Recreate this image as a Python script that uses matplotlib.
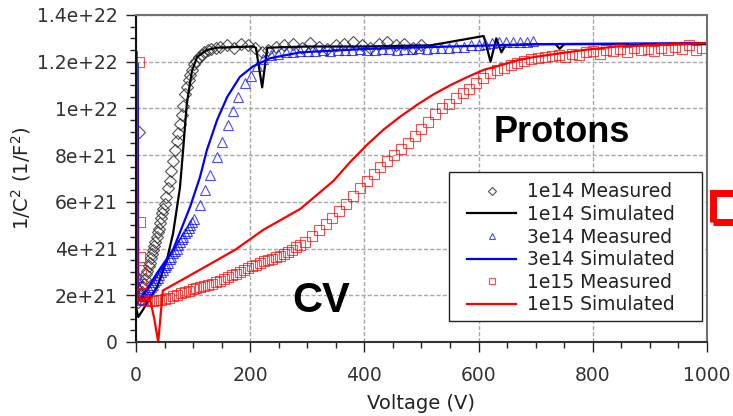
import numpy as np
import matplotlib
matplotlib.use('Agg')
import matplotlib.pyplot as plt
from matplotlib.patches import Rectangle

# Datos (valores de 1/C^2 en unidades de 1e21 F^-2)
v_1e14_med = [3, 5, 6, 8, 10, 12, 14, 16, 18, 20, 22, 24, 26, 28, 30, 32, 34, 36, 38, 40,
              42, 44, 46, 48, 50, 53, 56, 59, 62, 65, 68, 71, 74, 77, 80, 83, 86, 89, 92, 95,
              98, 102, 106, 110, 115, 120, 126, 132, 140, 148, 160, 172, 184, 196, 208, 220,
              232, 246, 260, 275, 290, 305, 320, 335, 350, 365, 380, 395, 410, 425, 440, 455,
              470, 485, 500]
c_1e14_med = [1.7, 9.0, 1.9, 2.0, 2.15, 2.35, 2.5, 2.7, 2.9, 3.05, 3.25, 3.4, 3.6, 3.75, 3.95,
              4.1, 4.3, 4.5, 4.7, 4.85, 5.1, 5.3, 5.5, 5.7, 5.9, 6.2, 6.6, 6.9, 7.3, 7.75, 8.2,
              8.6, 8.95, 9.35, 9.7, 10.1, 10.6, 10.9, 11.2, 11.45, 11.65, 11.9, 12.05, 12.2,
              12.3, 12.4, 12.5, 12.55, 12.6, 12.65, 12.7, 12.6, 12.75, 12.7, 12.6, 12.4, 12.5,
              12.65, 12.7, 12.75, 12.6, 12.8, 12.65, 12.55, 12.7, 12.75, 12.85, 12.7, 12.6,
              12.75, 12.85, 12.7, 12.75, 12.6, 12.7]

v_1e14_sim = [0, 4, 12, 25, 37, 54, 65, 77, 83, 89, 98, 107, 124, 142, 205, 210, 221, 230, 300,
              400, 516, 609, 621, 631, 640, 647, 700, 735, 742, 750, 800, 900, 1000]
c_1e14_sim = [1.5, 1.07, 1.37, 1.9, 2.35, 3.5, 4.65, 6.6, 8.35, 10.2, 11.6, 12.2, 12.5, 12.6,
              12.65, 12.6, 10.9, 12.6, 12.65, 12.65, 12.7, 13.1, 12.0, 13.0, 12.4, 12.7, 12.75,
              12.75, 12.55, 12.75, 12.75, 12.75, 12.75]

v_3e14_med = [4, 6, 8, 11, 14, 17, 20, 23, 26, 29, 32, 35, 38, 41, 44, 47, 50, 53, 56, 59, 62,
              65, 68, 71, 74, 77, 80, 83, 86, 89, 92, 95, 98, 101, 112, 121, 130, 142, 151, 161,
              170, 179, 191, 202, 212, 223, 236, 249, 262, 275, 288, 301, 314, 327, 340, 353,
              366, 379, 392, 405, 418, 431, 444, 457, 470, 483, 496, 509, 522, 535, 548, 561,
              574, 587, 600, 612, 624, 636, 648, 660, 672, 684, 696]
c_3e14_med = [2.8, 2.3, 1.8, 1.85, 1.95, 2.05, 2.15, 2.25, 2.35, 2.45, 2.55, 2.65, 2.75, 2.85,
              3.0, 3.1, 3.2, 3.3, 3.4, 3.55, 3.65, 3.8, 3.9, 4.0, 4.15, 4.3, 4.4, 4.5, 4.65,
              4.75, 4.9, 5.0, 5.15, 5.25, 5.85, 6.5, 7.15, 7.9, 8.55, 9.3, 9.9, 10.5, 11.1, 11.4,
              11.8, 12.1, 12.3, 12.35, 12.4, 12.4, 12.45, 12.45, 12.45, 12.5, 12.45, 12.5, 12.5,
              12.5, 12.55, 12.5, 12.5, 12.55, 12.55, 12.5, 12.55, 12.55, 12.6, 12.55, 12.6, 12.6,
              12.6, 12.65, 12.65, 12.7, 12.7, 12.75, 12.8, 12.85, 12.85, 12.85, 12.85, 12.85,
              12.9]

v_3e14_sim = [3, 4, 7, 37, 65, 95, 112, 124, 142, 160, 182, 205, 235, 288, 405, 551, 700, 1000]
c_3e14_sim = [11.9, 1.75, 1.8, 2.95, 3.95, 5.8, 7.05, 8.2, 9.5, 10.5, 11.35, 11.8, 12.15, 12.4,
              12.55, 12.65, 12.75, 12.8]

v_1e15_med = [5, 7, 7, 8, 9, 11, 15, 22, 29, 36, 43, 50, 57, 64, 71, 78, 85, 92, 99, 106, 113,
              120, 127, 134, 141, 148, 155, 162, 169, 176, 183, 190, 197, 204, 211, 218, 225,
              232, 239, 246, 253, 260, 267, 274, 281, 288, 296, 308, 320, 332, 344, 356, 368,
              380, 392, 404, 416, 428, 440, 452, 464, 476, 488, 500, 512, 524, 536, 548, 560,
              572, 584, 596, 608, 620, 632, 644, 656, 668, 680, 692, 704, 716, 728, 740, 752,
              764, 776, 788, 800, 812, 824, 836, 848, 860, 872, 884, 896, 908, 920, 932, 944,
              956, 968, 980, 992]
c_1e15_med = [12.0, 5.15, 3.65, 3.1, 2.5, 2.1, 1.8, 1.75, 1.75, 1.78, 1.8, 1.85, 1.9, 1.95,
              2.0, 2.1, 2.15, 2.2, 2.25, 2.3, 2.35, 2.4, 2.45, 2.5, 2.57, 2.63, 2.7, 2.77, 2.85,
              2.92, 3.0, 3.08, 3.16, 3.24, 3.3, 3.38, 3.45, 3.5, 3.57, 3.63, 3.7, 3.77, 3.85,
              3.95, 4.05, 4.15, 4.3, 4.55, 4.8, 5.05, 5.3, 5.6, 5.9, 6.25, 6.6, 6.9, 7.2, 7.5,
              7.75, 8.0, 8.25, 8.5, 8.8, 9.1, 9.4, 9.75, 10.0, 10.2, 10.45, 10.65, 10.85, 11.1,
              11.3, 11.5, 11.65, 11.75, 11.85, 11.95, 12.05, 12.1, 12.15, 12.2, 12.25, 12.3,
              12.2, 12.35, 12.3, 12.4, 12.45, 12.35, 12.5, 12.45, 12.55, 12.4, 12.6, 12.5,
              12.55, 12.45, 12.6, 12.5, 12.65, 12.55, 12.7, 12.5, 12.6]

v_1e15_sim = [1.5, 2.5, 5, 15, 25, 32, 39, 47, 80, 120, 174, 223, 288, 346, 375, 405, 434, 463,
              492, 521, 551, 581, 609, 639, 667, 697, 726, 784, 842, 902, 1000]
c_1e15_sim = [12.4, 1.8, 1.75, 1.8, 1.8, 1.0, 0.0, 2.2, 2.65, 3.2, 3.95, 4.8, 5.7, 6.9, 7.7,
              8.45, 9.1, 9.65, 10.15, 10.6, 11.0, 11.35, 11.65, 11.85, 12.05, 12.2, 12.3, 12.5,
              12.65, 12.7, 12.8]

x_ticks = [0, 200, 400, 600, 800, 1000]
y_ticks = [0, 2e21, 4e21, 6e21, 8e21, 1e22, 1.2e22, 1.4e22]
y_tick_labels = ['0', '2e+21', '4e+21', '6e+21', '8e+21', '1e+22', '1.2e+22', '1.4e+22']

escala = 1e21

plt.rcParams['font.family'] = ['DejaVu Sans']
plt.rcParams['mathtext.default'] = 'regular'

fig = plt.figure(figsize=(7.33, 4.16), dpi=100)
ax = fig.add_axes([0.1855, 0.178, 0.779, 0.786])

ax.plot(v_1e14_med, np.array(c_1e14_med) * escala, linestyle='none', marker='D', ms=6.5,
        mfc='none', mec='#333333', mew=0.8, alpha=0.85, label='1e14 Measured')
ax.plot(v_1e14_sim, np.array(c_1e14_sim) * escala, color='black', lw=1.6,
        label='1e14 Simulated')
ax.plot(v_3e14_med, np.array(c_3e14_med) * escala, linestyle='none', marker='^', ms=7,
        mfc='none', mec='blue', mew=0.8, alpha=0.7, label='3e14 Measured')
ax.plot(v_3e14_sim, np.array(c_3e14_sim) * escala, color='blue', lw=1.6,
        label='3e14 Simulated')
ax.plot(v_1e15_med, np.array(c_1e15_med) * escala, linestyle='none', marker='s', ms=7,
        mfc='none', mec='red', mew=0.8, alpha=0.7, label='1e15 Measured')
ax.plot(v_1e15_sim, np.array(c_1e15_sim) * escala, color='red', lw=1.6,
        label='1e15 Simulated')

ax.set_xlim(0, 1000)
ax.set_ylim(0, 1.4e22)
ax.set_xticks(x_ticks)
ax.set_xticks(np.arange(0, 1001, 50), minor=True)
ax.set_yticks(y_ticks)
ax.set_yticklabels(y_tick_labels)
ax.set_yticks(np.arange(0, 1.41e22, 5e20), minor=True)
ax.tick_params(which='major', direction='out', length=7, width=1, labelsize=13.5,
               labelcolor='#333333', color='#222222')
ax.tick_params(which='minor', direction='out', length=4.3, width=1, color='#222222')
ax.tick_params(axis='x', pad=10)
ax.tick_params(axis='y', pad=6)

ax.grid(True, which='major', color='#a8a8a8', linestyle=(0, (3, 1.5)), lw=1)
ax.set_axisbelow(True)

for lado in ['top', 'right']:
    ax.spines[lado].set_color('#707070')
    ax.spines[lado].set_linewidth(1.5)
ax.spines['left'].set_color('#111111')
ax.spines['bottom'].set_color('#333333')
ax.spines['left'].set_linewidth(1.5)
ax.spines['bottom'].set_linewidth(1.5)

ax.set_xlabel('Voltage (V)', fontsize=14, color='#222222', labelpad=7)
ax.set_ylabel('1/C$^2$ (1/F$^2$)', fontsize=14, color='#222222', labelpad=3)

ax.text(626, 8.56e21, 'Protons', fontsize=26, fontweight='bold',
        family='Liberation Sans', ha='left', va='baseline')
ax.text(274, 1.28e21, 'CV', fontsize=30, fontweight='bold',
        family='Liberation Sans', ha='left', va='baseline')

# marco de la leyenda dibujado aparte para igualar su tamaño
ax.add_patch(Rectangle((0.548, 0.064), 0.443, 0.456, transform=ax.transAxes,
                       facecolor='white', edgecolor='#222222', lw=1, zorder=4))
leg = ax.legend(loc='upper left', bbox_to_anchor=(0.580, 0.488), fontsize=13.5,
                frameon=False, handlelength=2.6, handletextpad=0.6, labelspacing=0.19,
                borderpad=0, borderaxespad=0, markerscale=0.7)
leg.set_zorder(5)
for t in leg.get_texts():
    t.set_color('#222222')

# recuadro rojo recortado a la derecha
fig.add_artist(Rectangle((712.5 / 733, (416 - 222) / 416), 0.2, 29 / 416,
                         transform=fig.transFigure, fill=False, ec='red', lw=5,
                         clip_on=False))

fig.savefig('out.png', dpi=100)
